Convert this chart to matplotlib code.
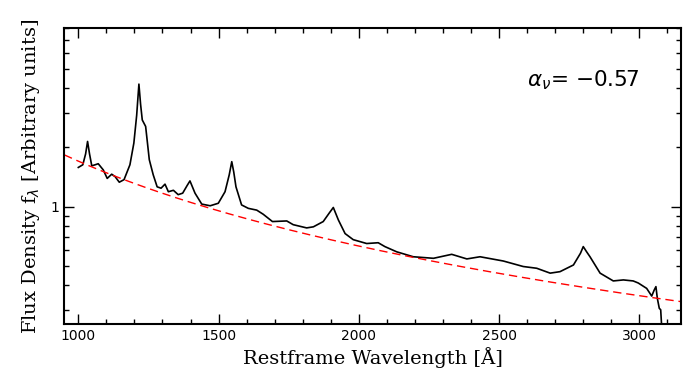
import matplotlib.pyplot as plt
import numpy as np
from matplotlib.ticker import MultipleLocator, LogLocator, NullFormatter, FixedFormatter, FixedLocator

# composite spectrum
wave = [1000, 1016, 1026, 1033, 1040, 1048, 1060, 1071, 1089, 1103, 1119, 1131, 1146,
        1163, 1184, 1198, 1208, 1216, 1222, 1228, 1240, 1253, 1267, 1281, 1295, 1309,
        1321, 1339, 1356, 1372, 1388, 1398, 1416, 1440, 1470, 1499, 1523, 1538, 1547,
        1554, 1562, 1582, 1606, 1636, 1659, 1692, 1743, 1766, 1814, 1838, 1873, 1895,
        1909, 1927, 1951, 1980, 2028, 2069, 2093, 2135, 2194, 2266, 2331, 2385, 2432,
        2515, 2586, 2634, 2682, 2717, 2765, 2790, 2800, 2812, 2824, 2860, 2907, 2943,
        2978, 2996, 3026, 3044, 3053, 3059, 3064, 3071, 3076, 3080]
flux = [1.58, 1.63, 1.85, 2.14, 1.85, 1.61, 1.63, 1.65, 1.535, 1.39, 1.46, 1.42, 1.33,
        1.37, 1.63, 2.10, 2.9, 4.18, 3.3, 2.75, 2.55, 1.73, 1.45, 1.26, 1.24, 1.30,
        1.19, 1.21, 1.15, 1.17, 1.28, 1.35, 1.17, 1.03, 1.01, 1.04, 1.19, 1.45, 1.69,
        1.5, 1.26, 1.02, 0.98, 0.96, 0.915, 0.84, 0.846, 0.81, 0.78, 0.79, 0.84, 0.93,
        0.99, 0.856, 0.73, 0.68, 0.65, 0.656, 0.627, 0.59, 0.557, 0.547, 0.573, 0.543, 0.557,
        0.53, 0.497, 0.487, 0.46, 0.468, 0.506, 0.58, 0.627, 0.59, 0.557, 0.46, 0.42, 0.425,
        0.42, 0.41, 0.385, 0.352, 0.378, 0.393, 0.343, 0.305, 0.30, 0.24]

alpha_nu = -0.57
norm = 1.83   # power law value at 950 A
law_wave = np.linspace(950, 3150, 200)
law_flux = norm * (law_wave / 950.0) ** (-(2 + alpha_nu))

fig = plt.figure(figsize=(6.95, 3.83), dpi=100)
ax = fig.add_axes([0.0925, 0.154, 0.888, 0.773])

ax.plot(wave, flux, color='black', lw=1.2)
ax.plot(law_wave, law_flux, color='#ff0000', lw=1.0, dashes=(6, 3.5))

ax.set_yscale('log')
ax.set_xlim(950, 3150)
ax.set_ylim(0.254, 8.05)

ax.xaxis.set_major_locator(MultipleLocator(500))
ax.xaxis.set_minor_locator(MultipleLocator(100))
ax.yaxis.set_major_locator(FixedLocator([1]))
ax.yaxis.set_major_formatter(FixedFormatter(['1']))
ax.yaxis.set_minor_locator(LogLocator(base=10, subs=np.arange(2, 10) * 1.0))
ax.yaxis.set_minor_formatter(NullFormatter())

ax.tick_params(which='both', direction='in', top=True, right=True, width=1.0, labelsize=10)
ax.tick_params(which='major', length=7)
ax.tick_params(which='minor', length=3.5)
for s in ax.spines.values():
    s.set_linewidth(1.5)

ax.set_xlabel(u'Restframe Wavelength [\u00c5]', family='DejaVu Serif', fontsize=14, labelpad=3)
ax.set_ylabel(r'Flux Density f$_\lambda$ [Arbitrary units]', family='DejaVu Serif', fontsize=14, labelpad=6)
ax.text(2600, 4.4, r'$\alpha_\nu$= $-$0.57', fontsize=15.5, va='center')

fig.savefig('out.png', dpi=100)
